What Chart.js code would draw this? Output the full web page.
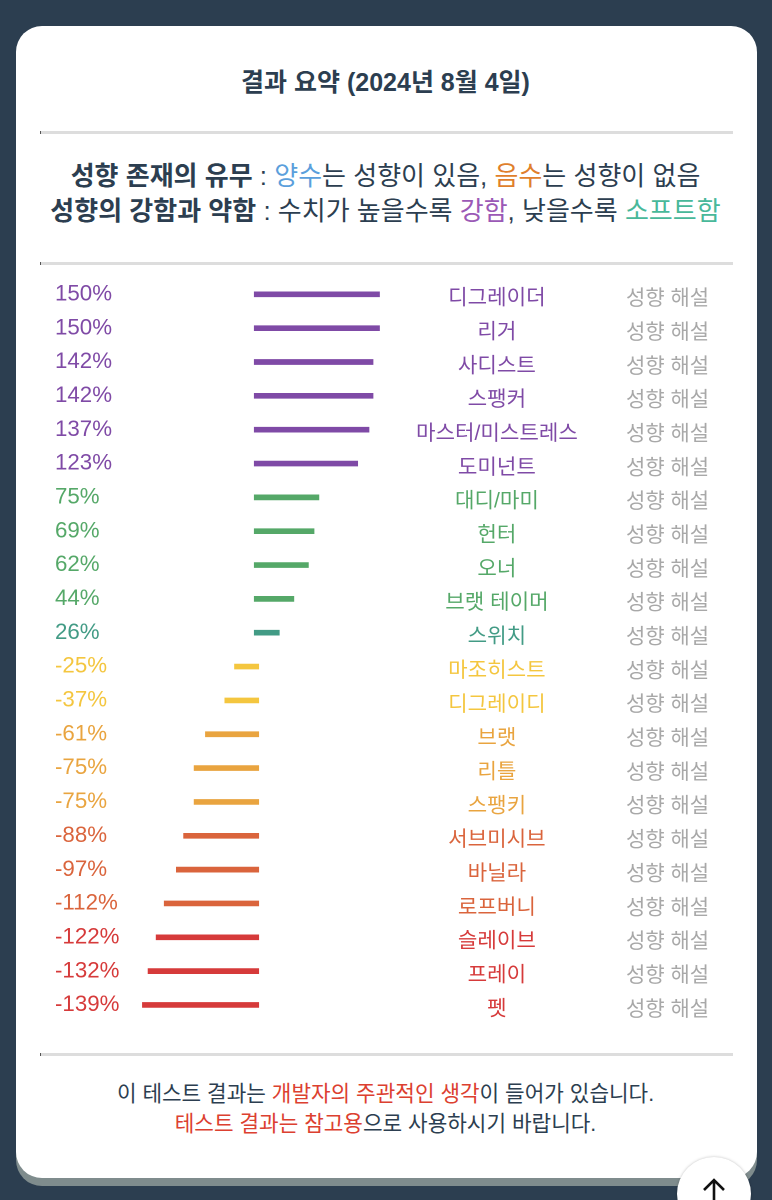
<!DOCTYPE html>
<html lang="ko"><head><meta charset="utf-8">
<script src="https://cdn.jsdelivr.net/npm/chart.js@4"></script>
<style>
html,body{margin:0;padding:0;background:#2c3e50;width:772px;height:1200px;overflow:hidden;font-family:"Liberation Sans","Noto Sans CJK KR",sans-serif;color:#2c3e50}
#card{position:absolute;left:15.5px;top:26px;width:741.5px;height:1152px;background:#fff;border-radius:26px;box-shadow:0 8px 0 #7f8c8d}
.hr{position:absolute;left:40px;width:693px;height:3px;background:#ddd;border-left:1px solid #555;box-sizing:border-box}
.t{position:absolute;left:0;width:771px;text-align:center;white-space:nowrap}
#chart{position:absolute;left:0;top:270px}
#up{position:absolute;left:677px;top:1157px;width:74px;height:74px;border-radius:50%;background:#fff;box-shadow:0 0 3px rgba(0,0,0,.25)}
b{font-weight:700}
</style></head><body>
<div id="card"></div>
<div class="t" style="top:65px;font-size:25px;line-height:34px;font-weight:700">결과 요약 (2024년 8월 4일)</div>
<div class="hr" style="top:131px"></div>
<div class="t" style="top:157.5px;font-size:26px;line-height:36px"><b>성향 존재의 유무</b> : <span style="color:#5b9fdc">양수</span>는 성향이 있음, <span style="color:#e07f2c">음수</span>는 성향이 없음</div>
<div class="t" style="top:192.5px;font-size:26px;line-height:36px"><b>성향의 강함과 약함</b> : 수치가 높을수록 <span style="color:#9b59b6">강함</span>, 낮을수록 <span style="color:#48b89a">소프트함</span></div>
<div class="hr" style="top:262px"></div>
<canvas id="chart" width="772" height="760"></canvas>
<div class="hr" style="top:1053px"></div>
<div class="t" style="top:1079px;font-size:21.3px;line-height:30px">이 테스트 결과는 <span style="color:#dc4030">개발자의 주관적인 생각</span>이 들어가 있습니다.</div>
<div class="t" style="top:1108.5px;font-size:21.3px;line-height:30px"><span style="color:#dc4030">테스트 결과는 참고용</span>으로 사용하시기 바랍니다.</div>
<div id="up"><svg width="74" height="74" viewBox="0 0 74 74"><path d="M37 46V23M27 33L37 23L47 33" fill="none" stroke="#111" stroke-width="2.6"/></svg></div>
<script>
const names = ["디그레이더","리거","사디스트","스팽커","마스터/미스트레스","도미넌트","대디/마미","헌터","오너","브랫 테이머","스위치","마조히스트","디그레이디","브랫","리틀","스팽키","서브미시브","바닐라","로프버니","슬레이브","프레이","펫"];
const values = [150,150,142,142,137,123,75,69,62,44,26,-25,-37,-61,-75,-75,-88,-97,-112,-122,-132,-139];
const colors = ["#7f4aa6","#7f4aa6","#7f4aa6","#7f4aa6","#7f4aa6","#7f4aa6","#55a868","#55a868","#55a868","#55a868","#429b85","#f4c63f","#f4c63f","#e9a43f","#e9a43f","#e9a43f","#da643c","#da643c","#da643c","#d63a3a","#d63a3a","#d63a3a"];
const noteLabel = "성향 해설";
const posBase = -5, negBase = 5;

const valueLabels = values.map(v => v + "%");
const notes = names.map(() => noteLabel);
const latin = '"Liberation Sans","Noto Sans CJK KR",sans-serif';
const rowColor = c => colors[c.index];
function fixedFit(w){ return s => { s.width = w; s.paddingTop = 0; s.paddingBottom = 0; }; }
function yAxis(labels, position, weight, width, crossAlign, padding, labelOffset, color, size){
  return { type:"category", labels, position, weight, offset:true,
    afterFit: fixedFit(width), grid:{display:false, drawTicks:false}, border:{display:false},
    ticks:{autoSkip:false, crossAlign, padding, labelOffset, color, font:{family:latin,size}, maxRotation:0} };
}
function xAxis(min,max){ return {type:"linear", min, max, display:false, grid:{display:false}}; }

new Chart(document.getElementById("chart"), {
  type:"bar",
  data:{ labels:names, datasets:[
    {label:"양수", data:values.map(v=>v>0?v:null), base:posBase, backgroundColor:colors, barThickness:5, grouped:false, xAxisID:"xPos", yAxisID:"yValue"},
    {label:"음수", data:values.map(v=>v<0?v:null), base:negBase, backgroundColor:colors, barThickness:5, grouped:false, xAxisID:"xNeg", yAxisID:"yValue"}
  ]},
  options:{ indexAxis:"y", responsive:false, animation:false, devicePixelRatio:2,
    layout:{padding:{left:55,right:52,top:7.4,bottom:8.1}},
    plugins:{legend:{display:false},tooltip:{enabled:false}},
    scales:{
      xPos:xAxis(-143.9,150.6), xNeg:xAxis(-139.5,155.1),
      yValue:yAxis(valueLabels,"left",1,87,"far",0,0,rowColor,22.3),
      yName:yAxis(names,"right",1,234,"center",36,4.5,rowColor,21.2),
      yNote:yAxis(notes,"right",2,106,"center",12,5,"#a8a8a8",21)
    }
  }
});
</script>
</body></html>
